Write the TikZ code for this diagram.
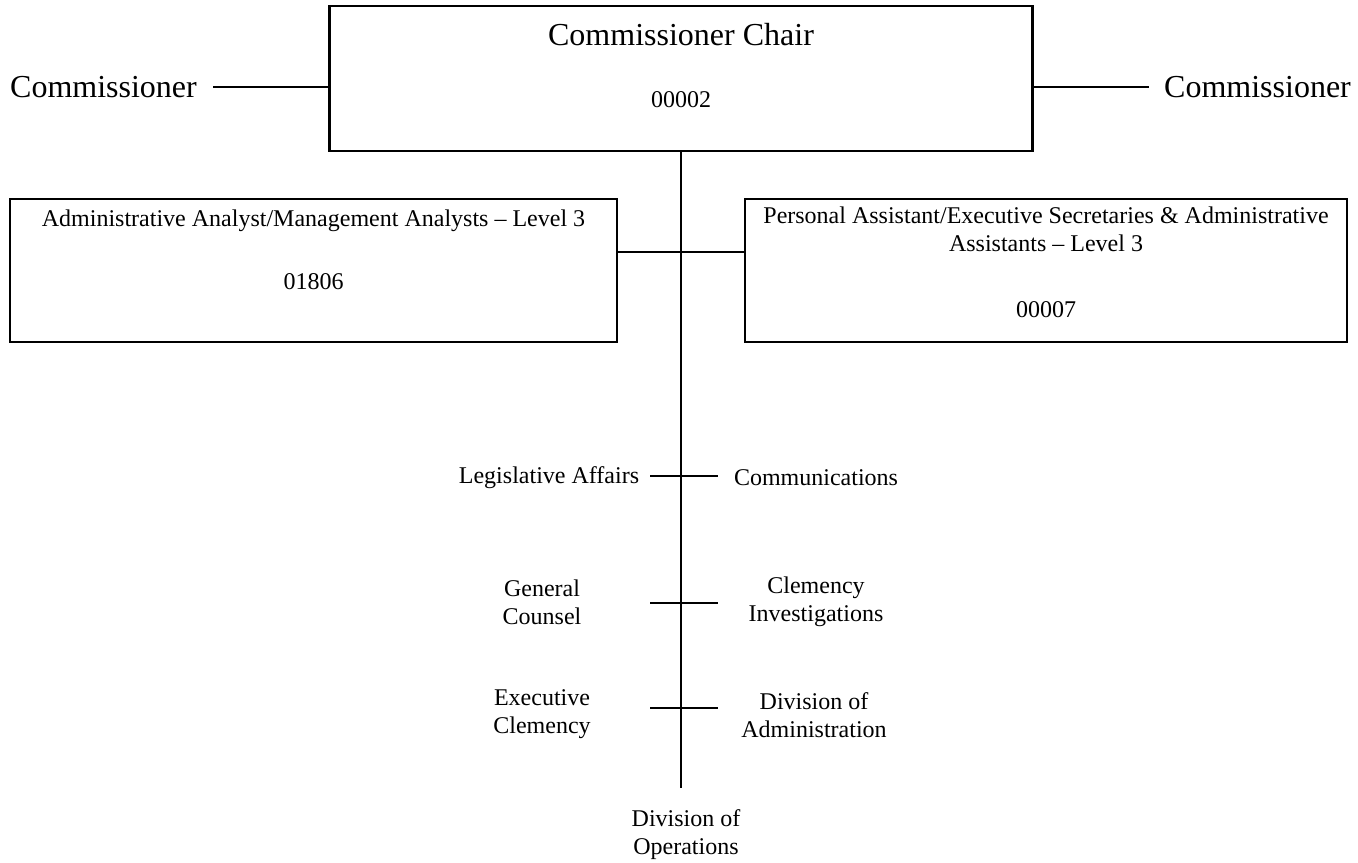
\documentclass[tikz,border=0pt]{standalone}
\usepackage{fontspec}
\setmainfont{Liberation Serif}
\begin{document}
\begin{tikzpicture}[x=0.5pt, y=-0.5pt,
    orgbox/.style={draw, rectangle, line width=1.2pt},
    big/.style={font=\fontsize{16}{19}\selectfont},
    small/.style={font=\fontsize{12}{14}\selectfont, align=center},
    link/.style={line width=0.9pt}]
    \useasboundingbox (0,0) rectangle (1358,862);
    % top of the chart
    \node[orgbox, minimum width=351.5pt, minimum height=72.5pt] (chair) at (681,78.5) {};
    \node[big] (chairname) at (681,35) {Commissioner Chair};
    \node[small] (chaircode) at (681,100) {00002};
    \node[big, inner xsep=8pt] (comleft) at (103.5,87) {Commissioner};
    \node[big, inner xsep=7.5pt] (comright) at (1257.5,87) {Commissioner};
    \draw[link] (comleft.east) -- (comleft.east -| chair.west);
    \draw[link] (chair.east |- comright.west) -- (comright.west);
    % staff boxes
    \node[orgbox, minimum width=303.5pt, minimum height=71.5pt] (adm) at (313.5,270.5) {};
    \node[small] (admname) at (313.5,221) {Administrative Analyst/Management Analysts -- Level 3};
    \node[small] (admcode) at (313.5,282) {01806};
    \node[orgbox, minimum width=301pt, minimum height=71.5pt] (pa) at (1046,270.5) {};
    \node[small] (paname) at (1046,229) {Personal Assistant/Executive Secretaries \& Administrative\\Assistants -- Level 3};
    \node[small] (pacode) at (1046,310) {00007};
    \coordinate (lk) at (681,252);
    \coordinate (spineend) at (681,788);
    \draw[link] (chair.south) -- (spineend);
    \draw[link] (adm.east |- lk) -- (pa.west |- lk);
    % units along the spine
    \foreach \y [count=\i] in {476,603,708} {
        \coordinate (tl\i) at (650,\y);
        \coordinate (tr\i) at (718,\y);
        \draw[link] (tl\i) -- (tr\i);
    }
    \node[small] (legis) at (549,478) {Legislative Affairs};
    \node[small] (comms) at (816,478) {Communications};
    \node[small] (counsel) at (542,602) {General\\Counsel};
    \node[small] (cleminv) at (816,602) {Clemency\\Investigations};
    \node[small] (execclem) at (542,714) {Executive\\Clemency};
    \node[small] (divadmin) at (814,715) {Division of\\Administration};
    \node[small] (divops) at (686,835) {Division of\\Operations};
\end{tikzpicture}
\end{document}
